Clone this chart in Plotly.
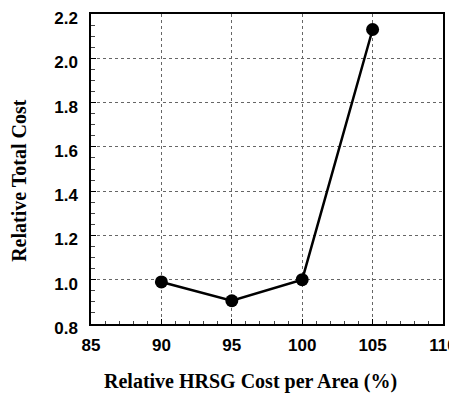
import plotly.graph_objects as go

hrsg_cost_pct = [90, 95, 100, 105]
relative_total_cost = [0.99, 0.905, 1.0, 2.13]

x_ticks = [85, 90, 95, 100, 105, 110]
y_ticks = [0.8, 1.0, 1.2, 1.4, 1.6, 1.8, 2.0, 2.2]

fig = go.Figure()
fig.add_trace(go.Scatter(
    x=hrsg_cost_pct, y=relative_total_cost, mode="lines+markers",
    line=dict(color="black", width=2.5),
    marker=dict(color="black", size=13),
    showlegend=False,
))

tickfont = dict(family="Liberation Sans, Arial", size=17, color="black", weight="bold")
titlefont = dict(family="Liberation Serif, Times New Roman", size=20, color="black", weight="bold")

fig.update_xaxes(
    range=[85, 110], tickvals=x_ticks, ticktext=[str(v) for v in x_ticks],
    tickfont=tickfont, ticks="inside", ticklen=5, tickcolor="black",
    ticklabelstandoff=5, automargin=False, ticklabeloverflow="allow",
    showline=True, linecolor="black", linewidth=1.5, mirror=True,
    showgrid=True, gridcolor="#666666", griddash="dot", gridwidth=1,
    minor=dict(dtick=1, ticks="inside", ticklen=3, tickcolor="#444444", showgrid=False),
    zeroline=False,
)
fig.update_yaxes(
    range=[0.8, 2.2], tickvals=y_ticks, ticktext=[f"{v:.1f}" for v in y_ticks],
    tickfont=tickfont, ticks="inside", ticklen=5, tickcolor="black",
    ticklabelstandoff=8, ticklabelshift=4, automargin=False, ticklabeloverflow="allow",
    showline=True, linecolor="black", linewidth=1.5, mirror=True,
    showgrid=True, gridcolor="#666666", griddash="dot", gridwidth=1,
    minor=dict(dtick=0.05, ticks="inside", ticklen=4, tickcolor="#444444", showgrid=False),
    zeroline=False,
)

fig.add_annotation(text="Relative HRSG Cost per Area (%)", xref="paper", yref="paper",
                   x=0.452, y=-0.187, showarrow=False, font=titlefont,
                   xanchor="center", yanchor="middle")
fig.add_annotation(text="Relative Total Cost", xref="paper", yref="paper",
                   x=-0.205, y=0.4645, showarrow=False, font=titlefont, textangle=-90,
                   xanchor="center", yanchor="middle")

fig.update_layout(
    width=449, height=387,
    margin=dict(l=83, r=14, t=6, b=71),
    plot_bgcolor="white", paper_bgcolor="white",
)

fig.write_html("out.html")
